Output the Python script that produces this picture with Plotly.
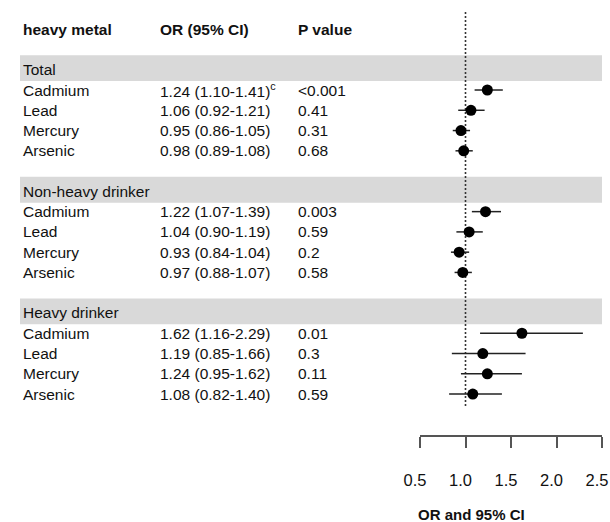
import plotly.graph_objects as go

# ---- data ----
groups = ["Total", "Non-heavy drinker", "Heavy drinker"]
metals = ["Cadmium", "Lead", "Mercury", "Arsenic"]
or_vals = [[1.24, 1.06, 0.95, 0.98],
           [1.22, 1.04, 0.93, 0.97],
           [1.62, 1.19, 1.24, 1.08]]
ci_low = [[1.10, 0.92, 0.86, 0.89],
          [1.07, 0.90, 0.84, 0.88],
          [1.16, 0.85, 0.95, 0.82]]
ci_high = [[1.41, 1.21, 1.05, 1.08],
           [1.39, 1.19, 1.04, 1.07],
           [2.29, 1.66, 1.62, 1.40]]
p_vals = [["<0.001", "0.41", "0.31", "0.68"],
          ["0.003", "0.59", "0.2", "0.58"],
          ["0.01", "0.3", "0.11", "0.59"]]
marks = [["c", "", "", ""], ["", "", "", ""], ["", "", "", ""]]
headers = ["heavy metal", "OR (95% CI)", "P value"]
tick_vals = [0.5, 1.0, 1.5, 2.0, 2.5]
null_value = 1.0
x_title = "OR and 95% CI"

# ---- layout helpers ----
W, H = 610, 522
ROW0_PX, ROW_PX = 29.2, 20.27          # pixel of row 0 and row pitch
y_top = -ROW0_PX / ROW_PX
y_bot = (H - ROW0_PX) / ROW_PX
FONT = "Arial, Liberation Sans, sans-serif"
col_x = [21, 158, 296]

fig = go.Figure()
annotations = []
shapes = []

def txt(x, y, s, bold=False, size=15.5):
    annotations.append(dict(
        x=x, y=y, xref="x", yref="y", text=f"<b>{s}</b>" if bold else s,
        showarrow=False, xanchor="left", yanchor="middle",
        font=dict(family=FONT, size=size, color="#111")))

for i, h in enumerate(headers):
    txt(col_x[i], 0, h, bold=True)

pt_x, pt_y, err_p, err_m = [], [], [], []
for g, grp in enumerate(groups):
    grow = 2 + 6 * g
    shapes.append(dict(type="rect", xref="x", yref="y", x0=20, x1=602,
                       y0=grow - 0.72, y1=grow + 0.56,
                       fillcolor="#d9d9d9", line_width=0, layer="below"))
    txt(col_x[0], grow, grp)
    for i, m in enumerate(metals):
        r = grow + 1 + i
        o, lo, hi = or_vals[g][i], ci_low[g][i], ci_high[g][i]
        sup = f"<sup>{marks[g][i]}</sup>" if marks[g][i] else ""
        txt(col_x[0], r, m)
        txt(col_x[1], r, f"{o:.2f} ({lo:.2f}-{hi:.2f}){sup}")
        txt(col_x[2], r, p_vals[g][i])
        pt_x.append(o); pt_y.append(r)
        err_p.append(hi - o); err_m.append(o - lo)

last_row = 2 + 6 * (len(groups) - 1) + len(metals)

# reference line at OR = 1
fig.add_trace(go.Scatter(
    x=[null_value, null_value], y=[-0.85, last_row + 0.69],
    xaxis="x2", yaxis="y", mode="lines",
    line=dict(color="#333", width=1.6, dash="2px,2px"),
    hoverinfo="skip", showlegend=False, cliponaxis=False))

fig.add_trace(go.Scatter(
    x=pt_x, y=pt_y, xaxis="x2", yaxis="y", mode="markers",
    marker=dict(color="black", size=11),
    error_x=dict(type="data", symmetric=False, array=err_p,
                 arrayminus=err_m, width=0, thickness=1.5, color="#222"),
    showlegend=False, cliponaxis=False))

annotations.append(dict(
    x=471.5, y=(514 - ROW0_PX) / ROW_PX, xref="x", yref="y",
    text=f"<b>{x_title}</b>", showarrow=False, xanchor="center",
    yanchor="middle", font=dict(family=FONT, size=15, color="#111")))

fig.update_layout(
    width=W, height=H,
    margin=dict(l=0, r=0, t=0, b=0),
    paper_bgcolor="white", plot_bgcolor="rgba(0,0,0,0)",
    xaxis=dict(range=[0, W], domain=[0, 1], visible=False, fixedrange=True),
    yaxis=dict(range=[y_bot, y_top], domain=[0, 1], visible=False),
    xaxis2=dict(range=[0.5, 2.5], domain=[420 / W, 602 / W],
                anchor="free", position=1 - 436 / H, automargin=False,
                showline=True, linecolor="#555", linewidth=1.5,
                ticks="outside", ticklen=11, tickwidth=1.5, tickcolor="#555",
                tickvals=tick_vals, tickformat=".1f",
                ticklabelstandoff=18, ticklabelshift=-5,
                tickfont=dict(family=FONT, size=16.5, color="#111"),
                showgrid=False, zeroline=False),
    annotations=annotations,
    shapes=shapes,
)

fig.write_html("out.html",
               config={"displayModeBar": False},
               post_script="document.body.style.margin='0';"
                           "document.body.style.overflow='hidden';")
